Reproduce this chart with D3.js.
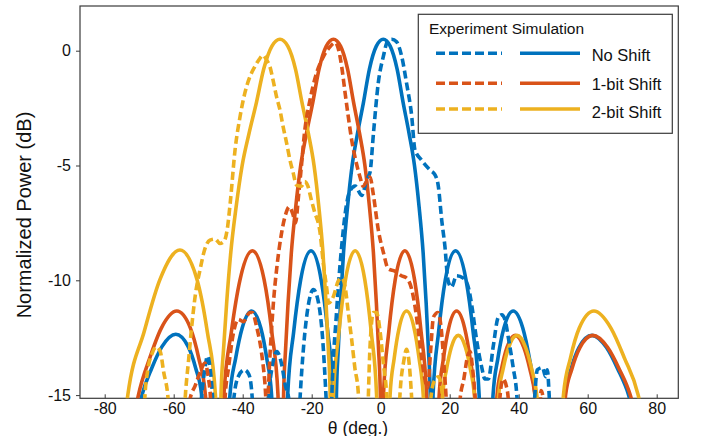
<!DOCTYPE html>
<html>
<head>
<meta charset="utf-8">
<script src="https://cdn.jsdelivr.net/npm/d3@7"></script>
<style>
  html, body { margin: 0; padding: 0; background: #fff; }
  svg { display: block; font-family: "Liberation Sans", Arial, sans-serif; }
</style>
</head>
<body>
<svg id="chart" width="701" height="436"></svg>
<script>
// ---- Tick values ----
const xTicks = [-80, -60, -40, -20, 0, 20, 40, 60, 80];
const yTicks = [0, -5, -10, -15];

// ---- Legend ----
const legendTitle = "Experiment Simulation";
const seriesNames = ["No Shift", "1-bit Shift", "2-bit Shift"];
const seriesColors = ["#0072BD", "#D95319", "#EDB120"];

// ---- Simulated patterns: [theta (deg), normalized power (dB)] ----
const simNoShift = [
  [-81, -30],
  [-69.2, -15], [-66.4, -13.84], [-63.4, -12.89], [-59.4, -12.35], [-55.8, -12.89], [-53.6, -13.84], [-51.9, -15],
  [-47.5, -30],
  [-43.7, -15], [-42.05, -13.4], [-40.15, -12.08], [-37.4, -11.34], [-34.75, -12.08], [-33.03, -13.4], [-31.63, -15],
  [-29.1, -30],
  [-26.96, -15], [-25.23, -12.25], [-23.2, -9.98], [-20.2, -8.71], [-17.26, -9.98], [-15.33, -12.25], [-13.73, -15],
  [-13.3, -30],
  [-12.83, -15], [-12.3, -13], [-11.65, -11], [-10.78, -8.8], [-9.61, -6.8], [-8.28, -5.0], [-6.72, -3.6],
  [-4.99, -2.25], [-3.27, -0.8], [-1.26, 0.2], [0.75, 0.5], [2.75, 0.2], [4.76, -0.8], [6.49, -2.25],
  [8.22, -3.6], [9.79, -5.0], [11.13, -6.8], [12.3, -8.8], [13.18, -11], [13.83, -13], [14.36, -15],
  [14.75, -30],
  [15.17, -15], [16.78, -12.25], [18.73, -9.98], [21.7, -8.71], [24.73, -9.98], [26.79, -12.25], [28.53, -15],
  [30.5, -30],
  [32.56, -15], [33.97, -13.4], [35.71, -12.08], [38.4, -11.34], [41.18, -12.08], [43.11, -13.4], [44.76, -15],
  [49.5, -30],
  [53.35, -15], [55.17, -13.86], [57.46, -12.93], [61.2, -12.4], [65.45, -12.93], [68.7, -13.86], [71.87, -15],
  [86, -30]
];

const simOneBit = [
  [-81, -30],
  [-70.23, -15], [-66.98, -13.4], [-63.58, -12.08], [-59.1, -11.34], [-55.16, -12.08], [-52.73, -13.4], [-50.81, -15],
  [-48, -30],
  [-45.45, -15], [-43.29, -12.25], [-40.78, -9.98], [-37.2, -8.71], [-33.78, -9.98], [-31.57, -12.25], [-29.77, -15],
  [-29.0, -30],
  [-28.15, -15], [-27.57, -13], [-26.86, -11], [-25.9, -8.8], [-24.63, -6.8], [-23.19, -5.0], [-21.52, -3.6],
  [-19.68, -2.25], [-17.87, -0.8], [-15.77, 0.2], [-13.7, 0.5], [-11.64, 0.2], [-9.6, -0.8], [-7.86, -2.25],
  [-6.13, -3.6], [-4.58, -5.0], [-3.26, -6.8], [-2.11, -8.8], [-1.25, -11], [-0.62, -13], [-0.1, -15],
  [0.35, -30],
  [0.8, -15], [2.34, -12.25], [4.2, -9.98], [7.0, -8.71], [9.82, -9.98], [11.71, -12.25], [13.29, -15],
  [15.1, -30],
  [16.95, -15], [18.2, -13.4], [19.71, -12.08], [22.0, -11.34], [24.33, -12.08], [25.91, -13.4], [27.23, -15],
  [30.5, -30],
  [33.73, -15], [35.02, -13.86], [36.58, -12.93], [39.0, -12.4], [41.5, -12.93], [43.22, -13.86], [44.69, -15],
  [49.5, -30],
  [53.59, -15], [55.42, -13.86], [57.74, -12.93], [61.5, -12.4], [65.8, -12.93], [69.13, -13.86], [72.34, -15],
  [86, -30]
];

const simTwoBit = [
  [-81, -30],
  [-73.3, -15], [-68.57, -12.24], [-63.97, -9.96], [-58.2, -8.68], [-53.25, -9.96], [-50.26, -12.24], [-47.9, -15],
  [-47.1, -30],
  [-46.29, -15], [-45.55, -13], [-44.66, -11], [-43.46, -8.8], [-41.9, -6.8], [-40.16, -5.0], [-38.16, -3.6],
  [-36.01, -2.25], [-33.91, -0.8], [-31.53, 0.2], [-29.2, 0.5], [-26.93, 0.2], [-24.7, -0.8], [-22.82, -2.25],
  [-20.97, -3.6], [-19.32, -5.0], [-17.93, -6.8], [-16.73, -8.8], [-15.84, -11], [-15.18, -13], [-14.65, -15],
  [-14.2, -30],
  [-13.7, -15], [-12.11, -12.25], [-10.22, -9.98], [-7.4, -8.71], [-4.6, -9.98], [-2.74, -12.25], [-1.19, -15],
  [0.75, -30],
  [2.72, -15], [3.91, -13.4], [5.34, -12.08], [7.5, -11.34], [9.67, -12.08], [11.12, -13.4], [12.33, -15],
  [15.2, -30],
  [17.98, -15], [19.1, -13.86], [20.45, -12.93], [22.5, -12.4], [24.58, -12.93], [25.99, -13.86], [27.17, -15],
  [30.9, -30],
  [34.2, -15], [35.49, -13.86], [37.07, -12.93], [39.5, -12.4], [42.02, -12.93], [43.76, -13.86], [45.24, -15],
  [49.7, -30],
  [52.97, -15], [54.98, -13.4], [57.56, -12.08], [61.8, -11.34], [66.73, -12.08], [70.68, -13.4], [74.64, -15],
  [86, -30]
];

// ---- Measured patterns: [theta (deg), normalized power (dB)] ----
const expNoShift = [
  [-54, -20],
  [-52.8, -17], [-52.0, -15.2], [-51.0, -13.9], [-50.2, -13.3], [-49.4, -13.9], [-48.7, -15.2], [-48.2, -17],
  [-45.5, -20],
  [-43.4, -17], [-42.6, -15.2], [-41.3, -14.2], [-39.5, -13.9], [-38.2, -14.1], [-37.2, -15.2], [-36.6, -17],
  [-34.5, -19],
  [-33.3, -17], [-32.6, -15.2], [-31.5, -13.8], [-30.1, -13.1], [-28.8, -13.6], [-27.6, -14.6], [-26.6, -15.2], [-26.0, -17],
  [-24.8, -19],
  [-24.0, -17], [-23.4, -15.2], [-22.3, -12.8], [-21.0, -11.1], [-19.5, -10.4], [-18.0, -11.0], [-16.8, -12.6], [-15.8, -15.2], [-15.2, -17],
  [-14.7, -18],
  [-14.2, -15.2], [-12.8, -11.4], [-11.3, -8.5], [-10.3, -7.1], [-8.9, -6.1], [-7.4, -5.9], [-5.5, -6.3],
  [-4.0, -5.6], [-3.1, -5.3], [-2.1, -3.6], [-0.7, -1.4], [0.75, -0.26], [2.2, 0.47], [3.2, 0.5], [4.6, 0.39],
  [6.1, -0.26], [7.5, -1.42], [9.0, -2.87], [9.9, -4.3], [11.8, -4.76], [14.3, -5.2], [15.7, -5.4], [16.7, -5.9],
  [17.7, -7.4], [18.6, -8.5], [19.5, -10.0], [20.5, -10.3], [22.0, -9.8], [23.9, -9.9], [25.4, -10.3],
  [26.4, -11.1], [27.8, -12.6], [29.3, -13.8], [30.2, -14.3], [31.2, -14.3], [32.6, -12.9], [34.1, -11.6],
  [35.1, -11.5], [36.0, -11.7], [37.0, -12.5], [38.4, -13.8], [39.4, -14.9], [40.2, -17],
  [42.5, -20],
  [44.0, -17], [44.6, -15.2], [45.4, -13.9], [46.9, -13.8], [47.8, -14.2], [48.3, -13.9], [48.9, -15.2], [49.5, -17],
  [52, -20]
];

const expOneBit = [
  [-57.5, -20],
  [-55.8, -17], [-55.3, -15.2], [-53.8, -14.6], [-52.3, -14.0], [-51.0, -13.6], [-50.0, -14.2], [-49.3, -15.2], [-48.8, -17],
  [-47, -20],
  [-45.7, -17], [-45.1, -15.1], [-44.1, -13.8], [-42.7, -12.3], [-41.3, -11.7], [-39.8, -11.8], [-37.9, -11.4],
  [-37.2, -11.4], [-36.0, -12.0], [-34.5, -13.2], [-33.6, -14.4], [-33.0, -15.6], [-32.0, -13.0], [-31.0, -10.8],
  [-30.0, -9.3], [-28.8, -8.0], [-27.5, -7.1], [-26.5, -6.8], [-25.5, -7.1], [-24.7, -7.5], [-23.8, -6.3],
  [-23.0, -5.05], [-22.1, -3.6], [-20.5, -2.15], [-18.6, -0.98], [-16.6, -0.26], [-14.7, 0.17], [-13.2, 0.35],
  [-12.3, 0.1], [-11.3, -0.7], [-10.3, -1.86], [-9.4, -2.87], [-8.4, -3.9], [-7.5, -4.6], [-6.0, -5.5],
  [-5.1, -5.9], [-4.1, -5.7], [-3.1, -5.5], [-2.2, -6.2], [-0.7, -7.8], [0.8, -8.8], [2.2, -9.5], [4.1, -9.6],
  [6.0, -9.8], [7.5, -9.9], [9.0, -10.4], [9.9, -11.1], [10.9, -12.2], [11.8, -13.3], [12.8, -14.3],
  [13.6, -14.7], [14.5, -13.0], [15.3, -11.6], [16.6, -11.4], [17.6, -12.2], [18.4, -13.8], [19.0, -15.2], [19.6, -17],
  [21.5, -20],
  [22.4, -17], [23.0, -15.2], [24.1, -14.3], [25.2, -13.3], [25.9, -13.1], [26.6, -13.8], [27.4, -15.2], [28.0, -17],
  [31, -20],
  [34.0, -17], [34.5, -15.2], [35.5, -14.3], [36.4, -14.6], [37.0, -15.2], [37.6, -17],
  [42, -20],
  [45.8, -17], [46.5, -14.8], [47.2, -15.3], [47.8, -17],
  [50, -20]
];

const expTwoBit = [
  [-70.5, -20],
  [-68.9, -17], [-68.4, -15.2], [-67.5, -13.9], [-66.3, -13.2], [-65.0, -12.9], [-63.9, -13.1], [-62.9, -14.0], [-61.6, -15.2], [-61.0, -17],
  [-59, -20],
  [-57.3, -17], [-56.7, -15.2], [-55.7, -13.5], [-54.9, -12.2], [-53.7, -10.6], [-52.3, -9.5], [-51.1, -8.7],
  [-49.5, -8.25], [-48.0, -8.2], [-46.6, -8.4], [-45.4, -8.3], [-44.5, -7.8], [-43.6, -6.6], [-42.2, -4.3],
  [-40.8, -2.9], [-39.4, -1.86], [-37.9, -1.13], [-36.5, -0.7], [-35.0, -0.33], [-34.1, -0.2], [-33.1, -0.4],
  [-32.1, -0.7], [-31.2, -1.28], [-30.2, -2.0], [-29.2, -2.58], [-28.3, -3.3], [-27.3, -4.0], [-26.3, -4.76],
  [-25.4, -5.3], [-24.4, -5.85], [-23.0, -5.9], [-22.0, -5.7], [-21.1, -5.9], [-20.1, -6.5], [-19.2, -7.0],
  [-17.6, -7.9], [-16.6, -9.3], [-15.6, -10.4], [-15.1, -11.0], [-13.7, -10.7], [-12.2, -10.0], [-11.3, -9.9],
  [-10.3, -10.3], [-9.4, -11.4], [-8.4, -12.6], [-7.5, -13.8], [-6.5, -14.9], [-5.9, -17],
  [-4.6, -19],
  [-3.9, -17], [-3.6, -15.2], [-3.1, -12.9], [-2.1, -11.4], [-1.2, -11.4], [-0.2, -12.2], [0.75, -13.6], [1.8, -15.2], [2.3, -17],
  [4, -20],
  [5.0, -17], [5.5, -15.2], [6.7, -13.5], [7.5, -13.0], [8.3, -13.7], [9.0, -15.2], [9.6, -17],
  [12, -20],
  [13.9, -17], [14.5, -15.2], [15.5, -14.4], [16.8, -14.2], [18.0, -15.2], [18.6, -17],
  [21, -20]
];

const simSeries = [simNoShift, simOneBit, simTwoBit];
const expSeries = [expNoShift, expOneBit, expTwoBit];

// ---- Layout ----
const svg = d3.select("#chart");
const box = { left: 80, top: 6, right: 678.3, bottom: 398.3 };

const x = d3.scaleLinear().domain([-80, 80]).range([104.7, 656.7]);
const y = d3.scaleLinear().domain([-15, 0]).range([395.1, 50.7]);

const frameColor = "#3a3a3a";

svg.append("defs").append("clipPath").attr("id", "plot-clip")
  .append("rect")
  .attr("x", box.left).attr("y", box.top)
  .attr("width", box.right - box.left).attr("height", box.bottom - box.top);

// ---- Axes ----
const xAxis = d3.axisBottom(x).tickValues(xTicks).tickSizeInner(-4).tickSizeOuter(0).tickPadding(4.5)
  .tickFormat(d3.format("d"));
const yAxis = d3.axisLeft(y).tickValues(yTicks).tickSizeInner(4).tickSizeOuter(0).tickPadding(5)
  .tickFormat(d3.format("d"));

const gx = svg.append("g").attr("transform", `translate(0,${box.bottom})`).call(xAxis);
const gy = svg.append("g").attr("transform", `translate(${box.left},0)`).call(yAxis);
[gx, gy].forEach(g => {
  g.select(".domain").remove();
  g.selectAll(".tick line").attr("stroke", frameColor).attr("stroke-width", 1);
  g.selectAll(".tick text").attr("fill", "#111").style("font-size", "16px")
    .style("font-family", "'Liberation Sans', Arial, sans-serif");
});
// plain hyphen-minus in the tick labels
gx.selectAll(".tick text").text(d => String(d));
gy.selectAll(".tick text").text(d => String(d));

// frame
svg.append("rect")
  .attr("x", box.left).attr("y", box.top)
  .attr("width", box.right - box.left).attr("height", box.bottom - box.top)
  .attr("fill", "none").attr("stroke", frameColor).attr("stroke-width", 1.2);

// axis titles
svg.append("text")
  .attr("x", 358).attr("y", 433.5)
  .attr("text-anchor", "middle")
  .style("font-size", "17.5px").attr("fill", "#111")
  .text("θ (deg.)");

svg.append("text")
  .attr("transform", "translate(31,215) rotate(-90)")
  .attr("text-anchor", "middle")
  .style("font-size", "20px").attr("fill", "#111")
  .text("Normalized Power (dB)");

// ---- Curves ----
const line = d3.line()
  .x(d => x(d[0]))
  .y(d => y(d[1]))
  .curve(d3.curveMonotoneX);

const plot = svg.append("g").attr("clip-path", "url(#plot-clip)");

simSeries.forEach((s, i) => {
  plot.append("path")
    .datum(s)
    .attr("d", line)
    .attr("fill", "none")
    .attr("stroke", seriesColors[i])
    .attr("stroke-width", 3.6)
    .attr("stroke-linejoin", "round");
});

expSeries.forEach((s, i) => {
  plot.append("path")
    .datum(s)
    .attr("d", line)
    .attr("fill", "none")
    .attr("stroke", seriesColors[i])
    .attr("stroke-width", 3.6)
    .attr("stroke-dasharray", "8,4");
});

// ---- Legend ----
const lg = svg.append("g");
lg.append("rect")
  .attr("x", 418.3).attr("y", 14.3).attr("width", 254).attr("height", 119)
  .attr("fill", "#fff").attr("stroke", frameColor).attr("stroke-width", 1.2);

lg.append("text")
  .attr("x", 429).attr("y", 33.5)
  .style("font-size", "15.5px").attr("fill", "#111")
  .text(legendTitle);

const rowY = [53.3, 83.3, 109];
const textY = [61, 90, 118];
seriesNames.forEach((name, i) => {
  lg.append("line")
    .attr("x1", 436).attr("x2", 502).attr("y1", rowY[i]).attr("y2", rowY[i])
    .attr("stroke", seriesColors[i]).attr("stroke-width", 3.6)
    .attr("stroke-dasharray", "9,4");
  lg.append("line")
    .attr("x1", 520).attr("x2", 580).attr("y1", rowY[i]).attr("y2", rowY[i])
    .attr("stroke", seriesColors[i]).attr("stroke-width", 3.6);
  lg.append("text")
    .attr("x", 591.7).attr("y", textY[i])
    .style("font-size", "16.5px").attr("fill", "#111")
    .text(name);
});
</script>
</body>
</html>
